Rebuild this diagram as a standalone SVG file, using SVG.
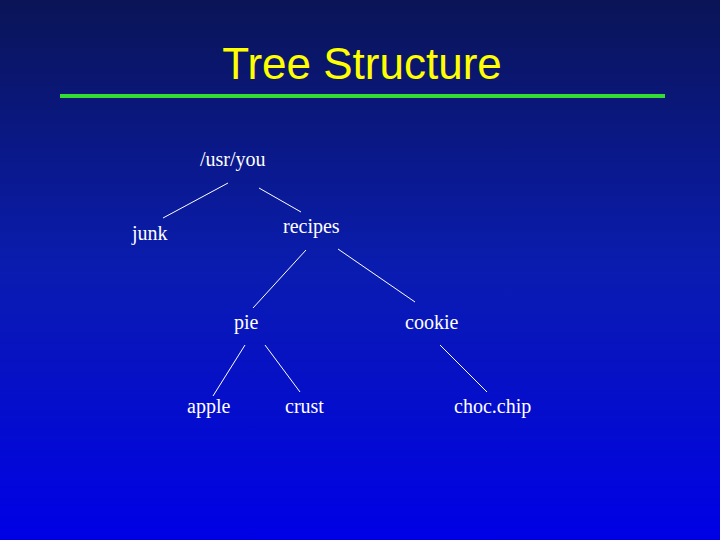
<svg xmlns="http://www.w3.org/2000/svg" width="720" height="540" viewBox="0 0 720 540">
<defs>
<linearGradient id="bg" x1="0" y1="0" x2="0" y2="1">
<stop offset="0" stop-color="#0a1456"/>
<stop offset="0.5" stop-color="#0a1cb0"/>
<stop offset="1" stop-color="#0000e6"/>
</linearGradient>
<style>
.lbl{font-family:"Liberation Serif",serif;font-size:20px;fill:#fff}
.edge{stroke:#fff;stroke-width:1}
</style>
</defs>
<rect width="720" height="540" fill="url(#bg)"/>
<text x="362" y="79" text-anchor="middle" font-family="Liberation Sans,sans-serif" font-size="44" fill="#ffff00">Tree Structure</text>
<rect x="60" y="94" width="605" height="4" fill="#33dd33"/>
<g id="connectors">
<line class="edge" x1="228" y1="183" x2="163" y2="218"/>
<line class="edge" x1="259" y1="188" x2="301" y2="212"/>
<line class="edge" x1="306" y1="250" x2="253" y2="308"/>
<line class="edge" x1="338" y1="249" x2="415" y2="302"/>
<line class="edge" x1="245" y1="345" x2="213" y2="396"/>
<line class="edge" x1="265" y1="345" x2="300" y2="392"/>
<line class="edge" x1="440" y1="345" x2="487" y2="392"/>
</g>
<g id="usr"><text class="lbl" x="200" y="166">/usr/you</text></g>
<g id="junk"><text class="lbl" x="132" y="240">junk</text></g>
<g id="recipes"><text class="lbl" x="283" y="233">recipes</text></g>
<g id="pie"><text class="lbl" x="234" y="329">pie</text></g>
<g id="cookie"><text class="lbl" x="405" y="329">cookie</text></g>
<g id="apple"><text class="lbl" x="187" y="413">apple</text></g>
<g id="crust"><text class="lbl" x="285" y="413">crust</text></g>
<g id="chocchip"><text class="lbl" x="454" y="413">choc.chip</text></g>
</svg>
